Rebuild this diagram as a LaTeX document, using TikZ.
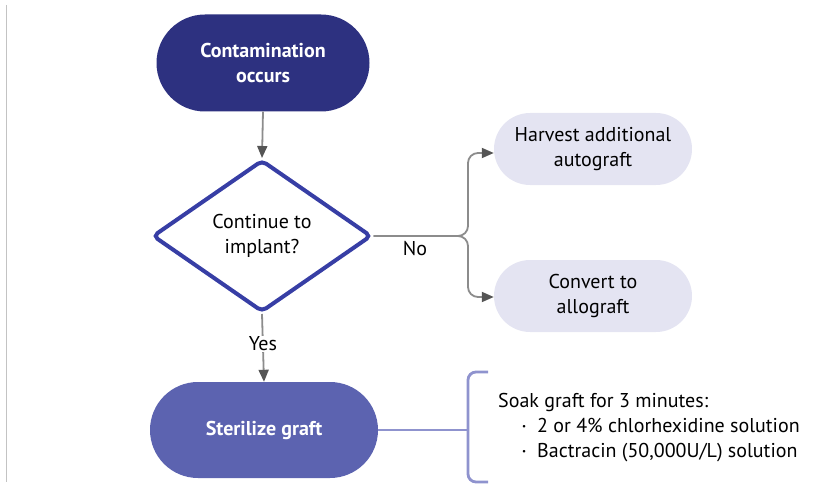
\documentclass[tikz,border=0pt]{standalone}
\usepackage{fontspec}
\setmainfont{PT Sans}
\usetikzlibrary{shapes.geometric,shapes.misc,arrows.meta}
\definecolor{navy}{RGB}{45,49,128}
\definecolor{midblue}{RGB}{92,99,176}
\definecolor{dblue}{RGB}{55,62,165}
\definecolor{lav}{RGB}{228,228,242}
\definecolor{brk}{RGB}{143,147,206}
\definecolor{lgray}{RGB}{140,140,140}
\definecolor{tipgray}{RGB}{85,85,85}
\definecolor{edgegray}{RGB}{195,195,195}
\newcommand{\mybul}{\makebox[15pt][l]{\raisebox{3pt}{\small\textbullet}}}
\begin{document}
\begin{tikzpicture}[x=1pt,y=-1pt,
  txt/.style={font=\fontsize{20}{25}\selectfont},
  pill/.style={rounded rectangle, inner sep=0pt, align=center, txt},
  darkpill/.style={pill, fill=navy, text=white, font=\fontsize{20}{25}\selectfont\bfseries},
  medpill/.style={pill, fill=midblue, text=white, font=\fontsize{20}{25}\selectfont\bfseries},
  lightpill/.style={pill, fill=lav, text=black},
  decision/.style={diamond, draw=dblue, line width=4pt, fill=white, rounded corners=5pt,
     inner sep=0pt, align=center, txt},
  conn/.style={draw=lgray, line width=1.8pt, rounded corners=10pt,
     -{Triangle[length=12pt,width=10pt,color=tipgray]}},
  bracketline/.style={draw=brk, line width=2.8pt, rounded corners=8pt}
]
\useasboundingbox (0,0) rectangle (815,487);
\draw[edgegray, line width=1pt] (6,5) -- (6,482);

\node[darkpill, minimum width=213pt, minimum height=97pt] (top) at (263,63) {Contamination\\occurs};
\node[decision, minimum width=219pt, minimum height=152pt] (dia) at (262,236) {Continue to\\implant?};
\node[lightpill, minimum width=198pt, minimum height=72pt] (harv) at (593,149) {Harvest additional\\autograft};
\node[lightpill, minimum width=198pt, minimum height=72pt] (conv) at (593,296) {Convert to\\allograft};
\node[medpill, minimum width=228pt, minimum height=96pt] (ster) at (264,430) {Sterilize graft};

\coordinate (j) at (468,236);
\coordinate (bm) at (468,430);

\draw[conn] (top.south) -- (dia.north);
\draw[conn] (dia.east) -- (j) -- (468,153) -- (harv.west |- 0,153);
\draw[conn] (dia.east) -- (j) -- (468,297) -- (conv.west |- 0,297);
\node[txt] (no) at (415,249) {No};

\draw[conn] (dia.south) -- (ster.north);
\node[txt, fill=white, inner sep=1pt] (yes) at (263,344) {Yes};

\draw[bracketline] (ster.east) -- (bm);
\draw[bracketline] (488,372) -- (468,372) -- (468,482) -- (488,482);

\node[txt, anchor=west, align=left, inner sep=0pt] (list) at (498,428)
 {Soak graft for 3 minutes:\\
  \hspace*{24pt}\mybul 2 or 4\% chlorhexidine solution\\
  \hspace*{24pt}\mybul Bactracin (50,000U/L) solution};
\end{tikzpicture}
\end{document}
